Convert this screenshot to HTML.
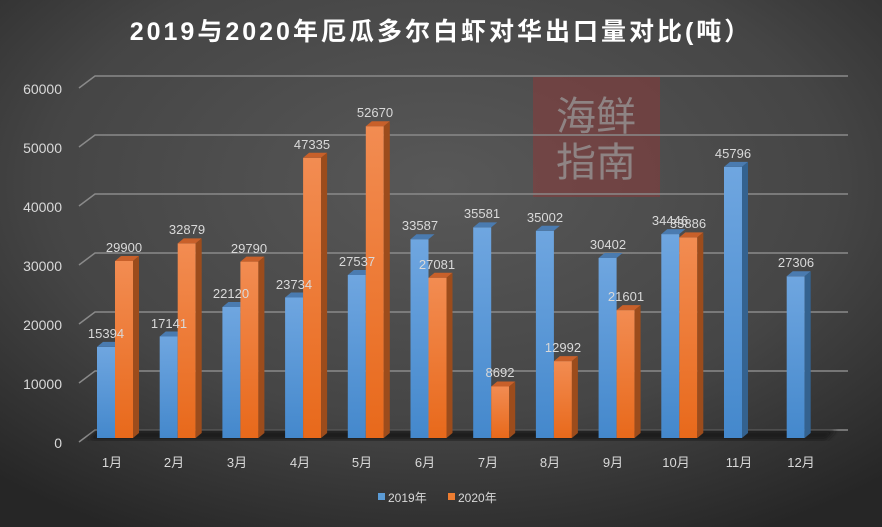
<!DOCTYPE html>
<html><head><meta charset="utf-8"><style>
html,body{margin:0;padding:0;width:882px;height:527px;overflow:hidden;background:#333}
svg{display:block;font-family:"Liberation Sans","Noto Sans CJK SC",sans-serif}
</style></head><body>
<svg width="882" height="527" viewBox="0 0 882 527" xmlns="http://www.w3.org/2000/svg">
<defs>
<radialGradient id="bg" cx="0.5" cy="0.35" r="0.75">
<stop offset="0" stop-color="#585858"/><stop offset="0.6" stop-color="#454545"/><stop offset="1" stop-color="#262626"/></radialGradient>
<linearGradient id="gb" x1="0" y1="0" x2="0" y2="1"><stop offset="0" stop-color="#6fa6e0"/><stop offset="1" stop-color="#4488cc"/></linearGradient>
<linearGradient id="go" x1="0" y1="0" x2="0" y2="1"><stop offset="0" stop-color="#f28c52"/><stop offset="1" stop-color="#e8691b"/></linearGradient>
<filter id="blur"><feGaussianBlur stdDeviation="2"/></filter>
</defs>
<rect width="882" height="527" fill="url(#bg)"/>
<text x="441" y="40" text-anchor="middle" font-size="25" letter-spacing="3" font-weight="bold" fill="#fff">2019与2020年厄瓜多尔白虾对华出口量对比(吨）</text>
<rect x="533" y="77" width="127" height="120" fill="#8a3a3a" opacity="0.55"/>
<g font-size="40" fill="#999" opacity="0.75" text-anchor="middle">
<text x="596" y="130">海鲜</text><text x="596" y="176">指南</text>
</g>
<g stroke="#8a8a8a" stroke-width="1.5" fill="none">
<path d="M79 88L95 76H848"/><path d="M79 147L95 135H848"/><path d="M79 206L95 194H848"/><path d="M79 265L95 253H848"/><path d="M79 324L95 312H848"/><path d="M79 383L95 371H848"/><path d="M79 442L95 430H848"/>
</g>
<g font-size="14" fill="#d9d9d9" text-anchor="end">
<text x="62" y="94">60000</text><text x="62" y="153">50000</text><text x="62" y="212">40000</text><text x="62" y="271">30000</text><text x="62" y="330">20000</text><text x="62" y="389">10000</text><text x="62" y="448">0</text>
</g>
<polygon points="88,440 826,440 836,430 98,430" fill="#1a1a1a" filter="url(#blur)"/>
<g fill="url(#gb)">
<rect x="97" y="346.9" width="18" height="91.1"/><rect x="159.7" y="336.5" width="18" height="101.5"/><rect x="222.4" y="307" width="18" height="131"/><rect x="285.1" y="297.5" width="18" height="140.5"/><rect x="347.8" y="275" width="18" height="163"/><rect x="410.5" y="239.2" width="18" height="198.8"/><rect x="473.2" y="227.4" width="18" height="210.6"/><rect x="535.9" y="230.8" width="18" height="207.2"/><rect x="598.6" y="258" width="18" height="180"/><rect x="661.3" y="234.1" width="18" height="203.9"/><rect x="724" y="166.9" width="18" height="271.1"/><rect x="786.7" y="276.3" width="18" height="161.7"/>
</g>
<g fill="#4a7bb0">
<polygon points="97,346.9 115,346.9 121,341.9 103,341.9"/><polygon points="159.7,336.5 177.7,336.5 183.7,331.5 165.7,331.5"/><polygon points="222.4,307 240.4,307 246.4,302 228.4,302"/><polygon points="285.1,297.5 303.1,297.5 309.1,292.5 291.1,292.5"/><polygon points="347.8,275 365.8,275 371.8,270 353.8,270"/><polygon points="410.5,239.2 428.5,239.2 434.5,234.2 416.5,234.2"/><polygon points="473.2,227.4 491.2,227.4 497.2,222.4 479.2,222.4"/><polygon points="535.9,230.8 553.9,230.8 559.9,225.8 541.9,225.8"/><polygon points="598.6,258 616.6,258 622.6,253 604.6,253"/><polygon points="661.3,234.1 679.3,234.1 685.3,229.1 667.3,229.1"/><polygon points="724,166.9 742,166.9 748,161.9 730,161.9"/><polygon points="786.7,276.3 804.7,276.3 810.7,271.3 792.7,271.3"/>
</g>
<g fill="#34628f">
<polygon points="742,166.9 748,161.9 748,433 742,438"/><polygon points="804.7,276.3 810.7,271.3 810.7,433 804.7,438"/>
</g>
<g fill="url(#go)">
<rect x="115" y="261" width="18" height="177"/><rect x="177.7" y="243.4" width="18" height="194.6"/><rect x="240.4" y="261.6" width="18" height="176.4"/><rect x="303.1" y="157.8" width="18" height="280.2"/><rect x="365.8" y="126.2" width="18" height="311.8"/><rect x="428.5" y="277.7" width="18" height="160.3"/><rect x="491.2" y="386.5" width="18" height="51.5"/><rect x="553.9" y="361.1" width="18" height="76.9"/><rect x="616.6" y="310.1" width="18" height="127.9"/><rect x="679.3" y="237.4" width="18" height="200.6"/>
</g>
<g fill="#c8602a">
<polygon points="115,261 133,261 139,256 121,256"/><polygon points="177.7,243.4 195.7,243.4 201.7,238.4 183.7,238.4"/><polygon points="240.4,261.6 258.4,261.6 264.4,256.6 246.4,256.6"/><polygon points="303.1,157.8 321.1,157.8 327.1,152.8 309.1,152.8"/><polygon points="365.8,126.2 383.8,126.2 389.8,121.2 371.8,121.2"/><polygon points="428.5,277.7 446.5,277.7 452.5,272.7 434.5,272.7"/><polygon points="491.2,386.5 509.2,386.5 515.2,381.5 497.2,381.5"/><polygon points="553.9,361.1 571.9,361.1 577.9,356.1 559.9,356.1"/><polygon points="616.6,310.1 634.6,310.1 640.6,305.1 622.6,305.1"/><polygon points="679.3,237.4 697.3,237.4 703.3,232.4 685.3,232.4"/>
</g>
<g fill="#9c4c1c">
<polygon points="133,261 139,256 139,433 133,438"/><polygon points="195.7,243.4 201.7,238.4 201.7,433 195.7,438"/><polygon points="258.4,261.6 264.4,256.6 264.4,433 258.4,438"/><polygon points="321.1,157.8 327.1,152.8 327.1,433 321.1,438"/><polygon points="383.8,126.2 389.8,121.2 389.8,433 383.8,438"/><polygon points="446.5,277.7 452.5,272.7 452.5,433 446.5,438"/><polygon points="509.2,386.5 515.2,381.5 515.2,433 509.2,438"/><polygon points="571.9,361.1 577.9,356.1 577.9,433 571.9,438"/><polygon points="634.6,310.1 640.6,305.1 640.6,433 634.6,438"/><polygon points="697.3,237.4 703.3,232.4 703.3,433 697.3,438"/>
</g>
<g font-size="13" fill="#d9d9d9" text-anchor="middle">
<text x="106" y="338">15394</text><text x="169" y="328">17141</text><text x="231" y="298">22120</text><text x="294" y="289">23734</text><text x="357" y="266">27537</text><text x="420" y="230">33587</text><text x="482" y="218">35581</text><text x="545" y="222">35002</text><text x="608" y="249">30402</text><text x="670" y="225">34446</text><text x="733" y="158">45796</text><text x="796" y="267">27306</text>
<text x="124" y="252">29900</text><text x="187" y="234">32879</text><text x="249" y="253">29790</text><text x="312" y="149">47335</text><text x="375" y="117">52670</text><text x="437" y="269">27081</text><text x="500" y="377">8692</text><text x="563" y="352">12992</text><text x="626" y="301">21601</text><text x="688" y="228">33886</text>
</g>
<g font-size="13" fill="#d9d9d9" text-anchor="middle">
<text x="112" y="467">1月</text><text x="174" y="467">2月</text><text x="237" y="467">3月</text><text x="300" y="467">4月</text><text x="362" y="467">5月</text><text x="425" y="467">6月</text><text x="488" y="467">7月</text><text x="550" y="467">8月</text><text x="613" y="467">9月</text><text x="676" y="467">10月</text><text x="739" y="467">11月</text><text x="801" y="467">12月</text>
</g>
<rect x="378" y="493" width="7" height="7" fill="#5b9bd5"/>
<text x="388" y="502" font-size="12" fill="#d9d9d9">2019年</text>
<rect x="448" y="493" width="7" height="7" fill="#ed7d31"/>
<text x="458" y="502" font-size="12" fill="#d9d9d9">2020年</text>
</svg>
</body></html>
